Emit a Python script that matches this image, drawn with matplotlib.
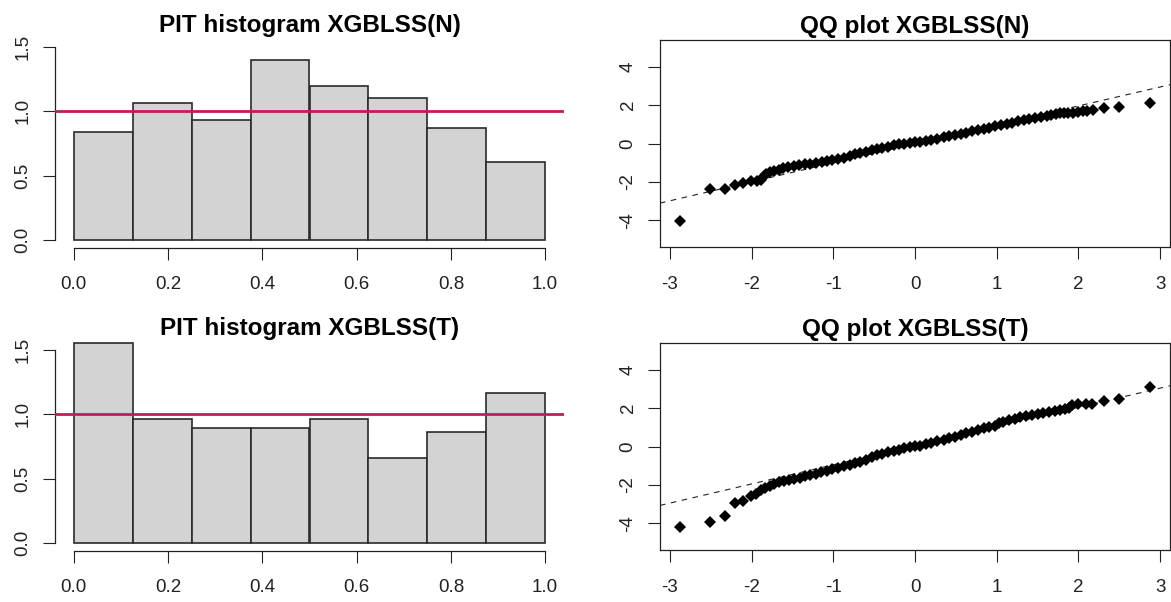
import numpy as np
import matplotlib
matplotlib.use("Agg")
import matplotlib.pyplot as plt

plt.rcParams['font.family'] = ['Liberation Sans', 'DejaVu Sans']

# PIT histograms (density per bin)
bin_edges = [0.0, 0.125, 0.25, 0.375, 0.5, 0.625, 0.75, 0.875, 1.0]
pit_dens_n = [0.84, 1.065, 0.935, 1.40, 1.198, 1.10, 0.867, 0.603]
pit_dens_t = [1.557, 0.967, 0.897, 0.897, 0.967, 0.66, 0.86, 1.167]

# QQ plot XGBLSS(N): theoretical vs sample quantiles
qq_x_n = [-2.88, -2.51, -2.33, -2.20, -2.10, -2.01, -1.93, -1.89, -1.85, -1.82,
          -1.78, -1.73, -1.67, -1.61, -1.55, -1.48, -1.42, -1.35, -1.28, -1.21,
          -1.14, -1.08, -1.01, -0.94, -0.87, -0.80, -0.73, -0.67, -0.60, -0.53,
          -0.47, -0.40, -0.33, -0.26, -0.19, -0.13, -0.06, 0.00, 0.06, 0.13,
          0.20, 0.27, 0.35, 0.42, 0.49, 0.56, 0.63, 0.70, 0.77, 0.84,
          0.91, 0.98, 1.05, 1.12, 1.19, 1.26, 1.33, 1.40, 1.47, 1.54,
          1.61, 1.67, 1.72, 1.77, 1.82, 1.87, 1.93, 1.99, 2.05, 2.10,
          2.18, 2.31, 2.49, 2.87]
qq_y_n = [-4.03, -2.38, -2.38, -2.14, -2.05, -1.98, -1.97, -1.93, -1.72, -1.58,
          -1.50, -1.44, -1.36, -1.28, -1.22, -1.16, -1.12, -1.09, -1.06, -1.01,
          -0.95, -0.89, -0.84, -0.79, -0.74, -0.66, -0.57, -0.50, -0.43, -0.36,
          -0.31, -0.24, -0.17, -0.10, -0.05, 0.00, 0.03, 0.06, 0.08, 0.13,
          0.19, 0.24, 0.32, 0.38, 0.44, 0.51, 0.57, 0.63, 0.69, 0.76,
          0.83, 0.90, 0.96, 1.03, 1.09, 1.15, 1.21, 1.27, 1.33, 1.39,
          1.45, 1.50, 1.55, 1.58, 1.57, 1.58, 1.61, 1.64, 1.68, 1.72,
          1.73, 1.86, 1.89, 2.11]
qq_line_n = (-0.02, 0.99)  # intercept, slope

# QQ plot XGBLSS(T)
qq_x_t = [-2.88, -2.51, -2.33, -2.20, -2.10, -2.01, -1.95, -1.89, -1.84, -1.78,
          -1.72, -1.66, -1.60, -1.54, -1.48, -1.41, -1.35, -1.28, -1.21, -1.15,
          -1.08, -1.01, -0.94, -0.87, -0.80, -0.74, -0.67, -0.60, -0.53, -0.47,
          -0.40, -0.33, -0.26, -0.19, -0.13, -0.06, 0.00, 0.06, 0.13, 0.20,
          0.27, 0.35, 0.42, 0.49, 0.56, 0.63, 0.70, 0.77, 0.84, 0.91,
          0.98, 1.03, 1.08, 1.15, 1.22, 1.29, 1.36, 1.43, 1.50, 1.57,
          1.64, 1.71, 1.77, 1.83, 1.88, 1.92, 1.99, 2.09, 2.17, 2.31,
          2.49, 2.87]
qq_y_t = [-4.18, -3.94, -3.63, -2.93, -2.83, -2.58, -2.48, -2.25, -2.16, -2.08,
          -1.96, -1.86, -1.80, -1.75, -1.70, -1.63, -1.56, -1.49, -1.42, -1.35,
          -1.28, -1.19, -1.10, -1.02, -0.94, -0.87, -0.79, -0.68, -0.56, -0.46,
          -0.38, -0.31, -0.23, -0.16, -0.10, -0.04, 0.01, 0.05, 0.12, 0.19,
          0.27, 0.34, 0.43, 0.51, 0.60, 0.68, 0.78, 0.87, 0.94, 1.01,
          1.08, 1.22, 1.28, 1.36, 1.45, 1.53, 1.60, 1.66, 1.71, 1.75,
          1.80, 1.86, 1.90, 1.94, 2.00, 2.16, 2.20, 2.24, 2.22, 2.37,
          2.46, 3.12]
qq_line_t = (0.045, 1.0)

pit_xticks = [0.0, 0.2, 0.4, 0.6, 0.8, 1.0]
pit_yticks = [0.0, 0.5, 1.0, 1.5]
qq_xticks = [-3, -2, -1, 0, 1, 2, 3]
qq_yticks = [-4, -2, 0, 2, 4]

W, H = 1171, 602
fig = plt.figure(figsize=(W / 100, H / 100), dpi=100)
fig.patch.set_facecolor('white')


def add_ax(left, top, right, bottom):
    return fig.add_axes([left / W, 1 - bottom / H, (right - left) / W, (bottom - top) / H])


def style_ticks(ax):
    ax.tick_params(direction='out', length=8.6, width=0.8, labelsize=13.5,
                   colors='#222222', pad=12)
    ax.tick_params(axis='y', pad=8.3)
    for lab in ax.get_yticklabels():
        lab.set_rotation(90)
        lab.set_va('center')


def pit_panel(ax, dens, title):
    ax.bar(bin_edges[:-1], dens, width=np.diff(bin_edges), align='edge',
           color='#D3D3D3', edgecolor='#2a2a2a', linewidth=1.2, zorder=2)
    ax.axhline(1, color='#BE1E5A', lw=2.0, zorder=3)
    ax.set_xlim(-0.04, 1.04)
    ax.set_ylim(-0.06, 1.56)
    ax.spines['top'].set_visible(False)
    ax.spines['right'].set_visible(False)
    ax.spines['left'].set_bounds(0, 1.5)
    ax.spines['bottom'].set_bounds(0, 1)
    for s in ['left', 'bottom']:
        ax.spines[s].set_linewidth(0.9)
        ax.spines[s].set_color('#222222')
    ax.set_xticks(pit_xticks)
    ax.set_xticklabels(['%.1f' % v for v in pit_xticks])
    ax.set_yticks(pit_yticks)
    ax.set_yticklabels(['%.1f' % v for v in pit_yticks])
    style_ticks(ax)
    ax.set_title(title, fontsize=17.5, fontweight='bold', pad=5)


def qq_panel(ax, xs, ys, line, title):
    ax.plot(xs, ys, 'D', color='black', ms=6.0, mew=0, zorder=3)
    ax.axline((0, line[0]), slope=line[1], color='#222222', lw=0.8,
              ls=(0, (5, 5)), zorder=2)
    ax.set_xlim(-3.12, 3.12)
    ax.set_ylim(-5.4, 5.4)
    for s in ax.spines.values():
        s.set_linewidth(0.9)
        s.set_color('#222222')
    ax.set_xticks(qq_xticks)
    ax.set_xticklabels([str(v) for v in qq_xticks])
    ax.set_yticks(qq_yticks)
    ax.set_yticklabels([str(v) for v in qq_yticks])
    style_ticks(ax)
    ax.set_title(title, fontsize=17.5, fontweight='bold', pad=5)


ax1 = add_ax(55, 39.3, 564, 247.5)
pit_panel(ax1, pit_dens_n, 'PIT histogram XGBLSS(N)')
ax2 = add_ax(660, 40, 1170, 247)
qq_panel(ax2, qq_x_n, qq_y_n, qq_line_n, 'QQ plot XGBLSS(N)')
ax3 = add_ax(55, 342.4, 564, 550.5)
pit_panel(ax3, pit_dens_t, 'PIT histogram XGBLSS(T)')
ax4 = add_ax(660, 343, 1170, 550)
qq_panel(ax4, qq_x_t, qq_y_t, qq_line_t, 'QQ plot XGBLSS(T)')

fig.savefig('out.png', dpi=100, facecolor='white')
